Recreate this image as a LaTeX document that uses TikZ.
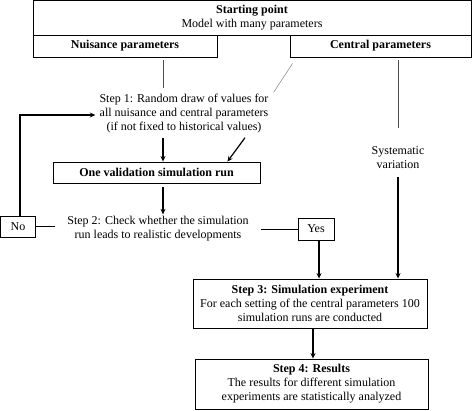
\documentclass[tikz,border=0pt]{standalone}
\usepackage{fontspec}
\setmainfont{Liberation Serif}
\usetikzlibrary{arrows.meta,calc}

\begin{document}
\begin{tikzpicture}[x=1pt,y=-1pt,font=\fontsize{12}{14}\selectfont,
    box/.style={draw,line width=0.9pt,inner sep=0pt,align=center},
    txt/.style={inner sep=0pt,align=center},
    ln/.style={draw,line width=0.9pt},
    dln/.style={draw,black!70,line width=1pt},
    gry/.style={draw,gray,line width=0.5pt},
    arr/.style={draw,line width=1.2pt,-{Stealth[length=5.5pt,width=5pt]}}]
  \useasboundingbox (0,0) rectangle (473,410);

  \node[box,minimum width=438pt,minimum height=35pt] (start) at (252,17.5) {\textbf{Starting point}\\Model with many parameters};
  \node[box,minimum width=184pt,minimum height=22pt] (nuis) at (125,46) {\textbf{Nuisance parameters}};
  \node[box,minimum width=181pt,minimum height=22pt] (cent) at (380.5,46) {\textbf{Central parameters}};

  \node[txt] (step1) at (184,114) {Step 1: Random draw of values for\\all nuisance and central parameters\\(if not fixed to historical values)};
  \node[box,minimum width=207pt,minimum height=21pt] (vrun) at (156.5,172.5) {\textbf{One validation simulation run}};
  \node[txt] (step2) at (158,229) {Step 2: Check whether the simulation\\run leads to realistic developments};
  \node[box,minimum width=35pt,minimum height=21pt] (no) at (18,226.5) {No};
  \node[box,minimum width=36pt,minimum height=22pt] (yes) at (316,229) {Yes};
  \node[txt] (sysvar) at (398,158) {Systematic\\variation};

  \node[box,minimum width=234pt,minimum height=49pt] (step3) at (310,303.5) {\textbf{Step 3: Simulation experiment}\\For each setting of the central parameters 100\\simulation runs are conducted};
  \node[box,minimum width=233pt,minimum height=50pt] (step4) at (311.5,384) {\textbf{Step 4: Results}\\The results for different simulation\\experiments are statistically analyzed};

  % parameters into step 1
  \draw[dln] ($(nuis.south)+(38,3)$) -- ++(0,28);
  \draw[gry] ($(cent.south west)+(3,6)$) -- ++(-19,29);
  \draw[dln] ($(cent.south)+(17.5,3)$) -- ++(0,68);
  \draw[arr] ($(sysvar.south)+(0,8)$) -- (sysvar.south |- step3.north);

  % validation loop
  \draw[arr] ($(step1.south)+(-21,4)$) -- ($(vrun.north)+(6.5,0)$);
  \draw[arr] ($(step1.south)+(61,4)$) -- ($(vrun.north east)+(-33,0)$);
  \draw[arr] ($(vrun.south)+(6.5,4)$) -- ($(step2.north)+(5,-2)$);
  \draw[ln] (no.east) -- ++(19,0);
  \draw[arr] ($(no.north)+(2,0)$) |- ($(step1.west)+(-4,1)$);
  \draw[ln] ($(step2.east)+(12,0)$) -- (yes.west);

  % experiment
  \draw[arr] ($(yes.south)+(3,0)$) -- ($(yes.south |- step3.north)+(3,0)$);
  \draw[arr] ($(step3.south)+(3,1)$) -- ($(step4.north)+(1.5,0)$);
\end{tikzpicture}
\end{document}
